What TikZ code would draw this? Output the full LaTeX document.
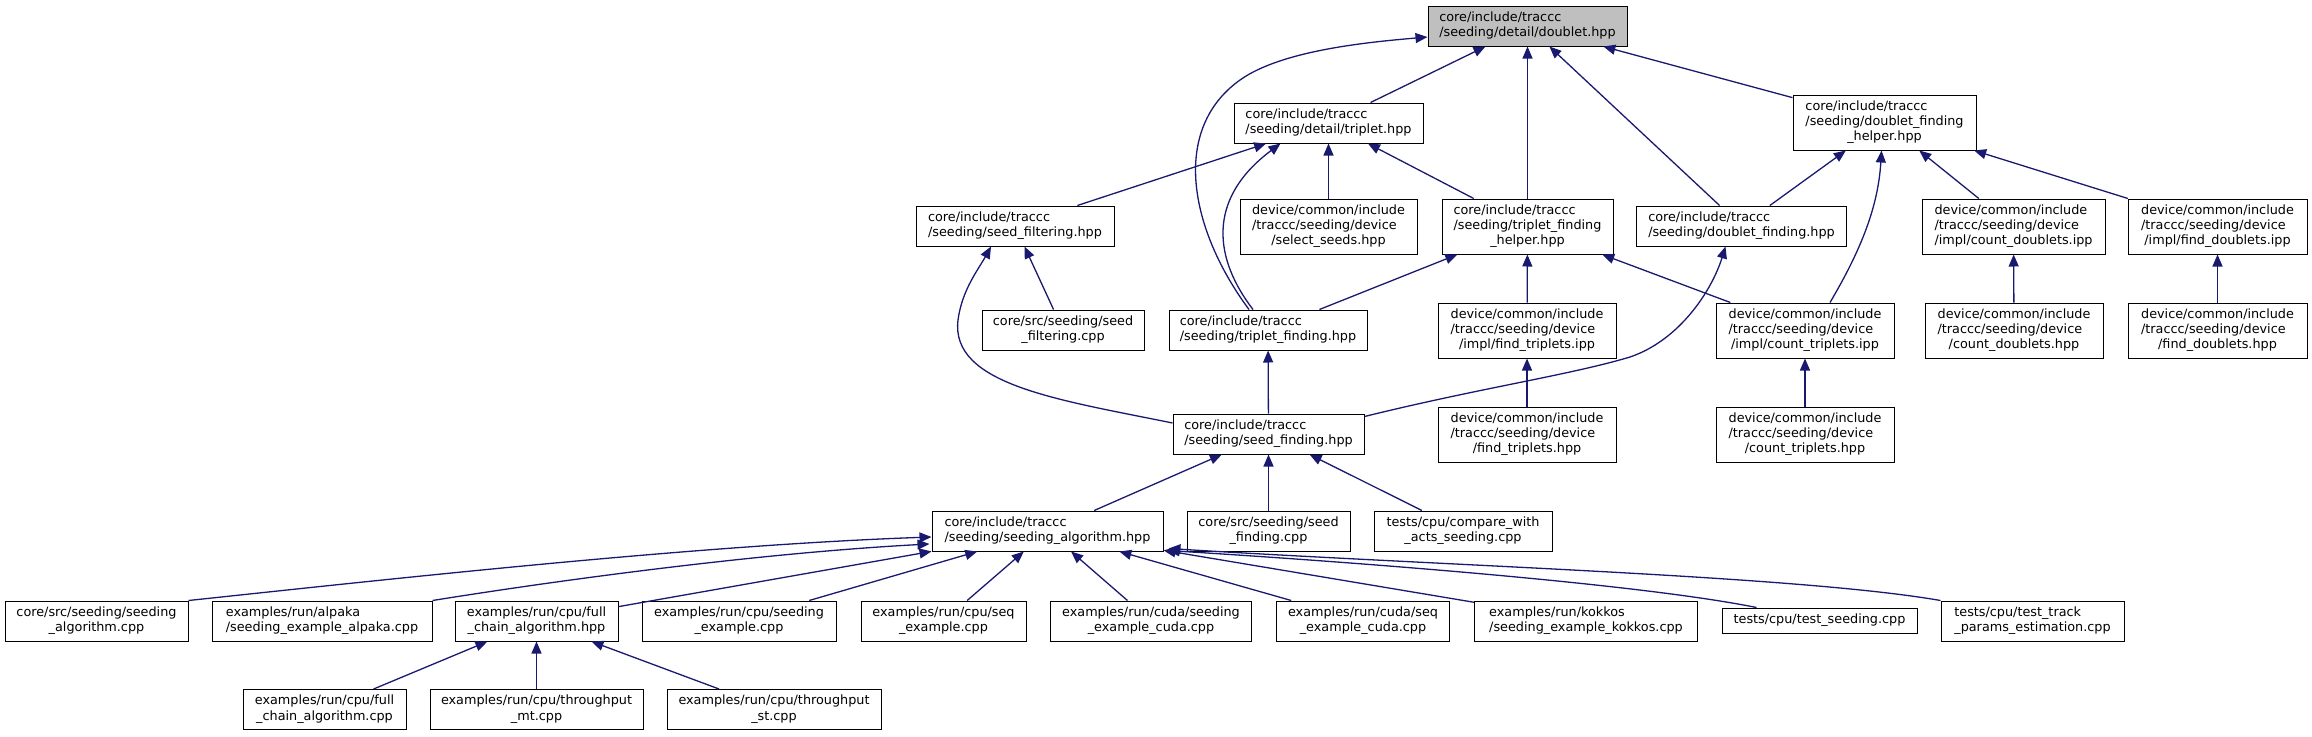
\documentclass[tikz,border=0pt]{standalone}
\usepackage{fontspec}
\setmainfont{DejaVu Sans}
\usetikzlibrary{arrows.meta,calc}
\definecolor{navy}{RGB}{25,25,112}
\definecolor{rootgray}{RGB}{191,191,191}
\newcommand{\txti}[1]{\begin{tabular}{@{}c@{}}#1\end{tabular}}
\newcommand{\txtii}[2]{\begin{tabular}{@{}l@{}}#1\\\multicolumn{1}{@{}c@{}}{#2}\end{tabular}}
\newcommand{\txtiii}[3]{\begin{tabular}{@{}l@{}}#1\\#2\\\multicolumn{1}{@{}c@{}}{#3}\end{tabular}}
\begin{document}
\begin{tikzpicture}[x=1pt,y=-1pt,
  box/.style={draw=black, line width=1pt, fill=white, rectangle, inner sep=0pt,
    minimum height=40pt, font=\fontsize{12.8}{15.3}\selectfont, text=black},
  tall/.style={box, minimum height=55pt},
  short/.style={box, minimum height=25pt},
  root/.style={box, fill=rootgray},
  edge/.style={draw=navy, line width=1.3pt, -{Triangle[length=12pt,width=10pt]}}]
\useasboundingbox (0,0) rectangle (2312,736);

% rank 0
\node[root, minimum width=199pt] (doublet) at (1527.5,26) {\txtii{core/include/traccc}{/seeding/detail/doublet.hpp}};
% rank 1
\node[box, minimum width=189pt] (triplet) at (1328.5,123) {\txtii{core/include/traccc}{/seeding/detail/triplet.hpp}};
\node[tall, minimum width=183pt] (dfhelper) at (1884.5,122.5) {\txtiii{core/include/traccc}{/seeding/doublet\_finding}{\_helper.hpp}};
% rank 2
\node[box, minimum width=198pt] (sfilthpp) at (1015,226) {\txtii{core/include/traccc}{/seeding/seed\_filtering.hpp}};
\node[tall, minimum width=177pt] (selseeds) at (1328.5,226.5) {\txtiii{device/common/include}{/traccc/seeding/device}{/select\_seeds.hpp}};
\node[tall, minimum width=171pt] (tfhelper) at (1527.5,226.5) {\txtiii{core/include/traccc}{/seeding/triplet\_finding}{\_helper.hpp}};
\node[box, minimum width=210pt] (dfinding) at (1741.5,226) {\txtii{core/include/traccc}{/seeding/doublet\_finding.hpp}};
\node[tall, minimum width=183pt] (cdipp) at (2013.5,226.5) {\txtiii{device/common/include}{/traccc/seeding/device}{/impl/count\_doublets.ipp}};
\node[tall, minimum width=179pt] (fdipp) at (2217.5,226.5) {\txtiii{device/common/include}{/traccc/seeding/device}{/impl/find\_doublets.ipp}};
% rank 3
\node[box, minimum width=162pt] (sfiltcpp) at (1063,330) {\txtii{core/src/seeding/seed}{\_filtering.cpp}};
\node[box, minimum width=198pt] (tfinding) at (1268,330) {\txtii{core/include/traccc}{/seeding/triplet\_finding.hpp}};
\node[tall, minimum width=178pt] (ftipp) at (1527,330.5) {\txtiii{device/common/include}{/traccc/seeding/device}{/impl/find\_triplets.ipp}};
\node[tall, minimum width=178pt] (ctipp) at (1805,330.5) {\txtiii{device/common/include}{/traccc/seeding/device}{/impl/count\_triplets.ipp}};
\node[tall, minimum width=178pt] (cdhpp) at (2014,330.5) {\txtiii{device/common/include}{/traccc/seeding/device}{/count\_doublets.hpp}};
\node[tall, minimum width=179pt] (fdhpp) at (2217.5,330.5) {\txtiii{device/common/include}{/traccc/seeding/device}{/find\_doublets.hpp}};
% rank 4
\node[box, minimum width=191pt] (sfinding) at (1268.5,434) {\txtii{core/include/traccc}{/seeding/seed\_finding.hpp}};
\node[tall, minimum width=178pt] (fthpp) at (1527,434.5) {\txtiii{device/common/include}{/traccc/seeding/device}{/find\_triplets.hpp}};
\node[tall, minimum width=178pt] (cthpp) at (1805,434.5) {\txtiii{device/common/include}{/traccc/seeding/device}{/count\_triplets.hpp}};
% rank 5
\node[box, minimum width=231pt] (salghpp) at (1047.5,531) {\txtii{core/include/traccc}{/seeding/seeding\_algorithm.hpp}};
\node[box, minimum width=163pt] (sfindcpp) at (1268.5,531) {\txtii{core/src/seeding/seed}{\_finding.cpp}};
\node[box, minimum width=178pt] (compare) at (1463,531) {\txtii{tests/cpu/compare\_with}{\_acts\_seeding.cpp}};
% rank 6
\node[box, minimum width=183pt] (salgcpp) at (96.5,621) {\txtii{core/src/seeding/seeding}{\_algorithm.cpp}};
\node[box, minimum width=220pt] (alpaka) at (322,621) {\txtii{examples/run/alpaka}{/seeding\_example\_alpaka.cpp}};
\node[box, minimum width=163pt] (fchpp) at (536.5,621) {\txtii{examples/run/cpu/full}{\_chain\_algorithm.hpp}};
\node[box, minimum width=194pt] (sexcpu) at (739,621) {\txtii{examples/run/cpu/seeding}{\_example.cpp}};
\node[box, minimum width=165pt] (seqcpu) at (943.5,621) {\txtii{examples/run/cpu/seq}{\_example.cpp}};
\node[box, minimum width=201pt] (sexcuda) at (1151,621) {\txtii{examples/run/cuda/seeding}{\_example\_cuda.cpp}};
\node[box, minimum width=173pt] (seqcuda) at (1363,621) {\txtii{examples/run/cuda/seq}{\_example\_cuda.cpp}};
\node[box, minimum width=223pt] (kokkos) at (1586,621) {\txtii{examples/run/kokkos}{/seeding\_example\_kokkos.cpp}};
\node[short, minimum width=195pt] (tseed) at (1819.5,620.5) {\txti{tests/cpu/test\_seeding.cpp}};
\node[box, minimum width=183pt] (ttrack) at (2032.5,621) {\txtii{tests/cpu/test\_track}{\_params\_estimation.cpp}};
% rank 7
\node[box, minimum width=163pt] (fccpp) at (324.5,709.5) {\txtii{examples/run/cpu/full}{\_chain\_algorithm.cpp}};
\node[box, minimum width=213pt] (thmt) at (536.5,709.5) {\txtii{examples/run/cpu/throughput}{\_mt.cpp}};
\node[box, minimum width=214pt] (thst) at (774,709.5) {\txtii{examples/run/cpu/throughput}{\_st.cpp}};

% edges to doublet
\draw[edge] (triplet) -- (doublet);
\draw[edge] (tfhelper) -- (doublet);
\draw[edge] (dfinding) -- (doublet);
\draw[edge] (dfhelper) -- (doublet);
\draw[edge] ([xshift=-19pt]tfinding.north) .. controls (1190,230) and (1170,130) .. (1240,80)
  .. controls (1282,50) and (1370,42) .. ($(doublet.west)+(0,11)$);
% edges to triplet
\draw[edge] (sfilthpp) -- (triplet);
\draw[edge] (selseeds) -- (triplet);
\draw[edge] (tfhelper) -- (triplet);
\draw[edge] ([xshift=-15pt]tfinding.north) .. controls (1215,260) and (1205,200) .. ($(triplet.south)+(-48,0)$);
% edges to doublet_finding_helper
\draw[edge] (dfinding) -- (dfhelper);
\draw[edge] (cdipp) -- (dfhelper);
\draw[edge] (fdipp) -- (dfhelper);
\draw[edge] ($(ctipp.north)+(25,0)$) .. controls (1858,255) and (1878,210) .. ($(dfhelper.south)+(-3,0)$);
% rank 2 -> 3
\draw[edge] (sfiltcpp) -- (sfilthpp);
\draw[edge] ($(sfinding.west)+(0,-11)$) .. controls (1060,400) and (950,385) .. (958,320)
  .. controls (962,290) and (978,270) .. ($(sfilthpp.south)+(-24,0)$);
\draw[edge] (tfinding) -- (tfhelper);
\draw[edge] (ftipp) -- (tfhelper);
\draw[edge] (ctipp) -- (tfhelper);
\draw[edge] ($(sfinding.north east)+(0,3)$) .. controls (1480,388) and (1570,375) .. (1630,357)
  .. controls (1680,340) and (1712,290) .. ($(dfinding.south)+(-16,0)$);
\draw[edge] (cdhpp) -- (cdipp);
\draw[edge] (fdhpp) -- (fdipp);
% rank 3 -> 4
\draw[edge] (sfinding) -- (tfinding);
\draw[edge] (fthpp) -- (ftipp);
\draw[edge] (cthpp) -- (ctipp);
% rank 5
\draw[edge] (salghpp) -- (sfinding);
\draw[edge] (sfindcpp) -- (sfinding);
\draw[edge] (compare) -- (sfinding);
% rank 6 -> seeding_algorithm.hpp
\draw[edge] (salgcpp.north east) .. controls (400,578) and (700,545) .. ($(salghpp.west)+(0,6)$);
\draw[edge] (alpaka.north east) .. controls (560,580) and (760,553) .. ($(salghpp.west)+(-2,13)$);
\draw[edge] (fchpp) -- (salghpp);
\draw[edge] (sexcpu) -- (salghpp);
\draw[edge] (seqcpu) -- (salghpp);
\draw[edge] (sexcuda) -- (salghpp);
\draw[edge] (seqcuda) -- (salghpp);
\draw[edge] (kokkos) -- (salghpp);
\draw[edge] ($(tseed.north west)+(35,0)$) .. controls (1650,586) and (1400,565) .. ($(salghpp.south east)+(4,-1)$);
\draw[edge] (ttrack.north west) .. controls (1800,576) and (1450,566) .. ($(salghpp.south east)+(5,-3)$);
% rank 7
\draw[edge] (fccpp) -- (fchpp);
\draw[edge] (thmt) -- (fchpp);
\draw[edge] (thst) -- (fchpp);
\end{tikzpicture}
\end{document}
